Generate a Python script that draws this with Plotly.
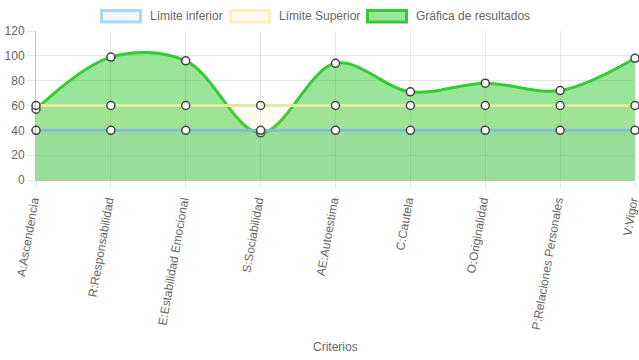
import plotly.graph_objects as go

categorias = ["A:Ascendencia", "R:Responsabilidad", "E:Estabilidad Emocional",
              "S:Sociabilidad", "AE:Autoestima", "C:Cautela", "O:Originalidad",
              "P:Relaciones Personales", "V:Vigor"]
limite_inferior = [40, 40, 40, 40, 40, 40, 40, 40, 40]
limite_superior = [60, 60, 60, 60, 60, 60, 60, 60, 60]
resultados = [57, 99, 96, 38, 94, 71, 78, 72, 98]
nombres = ["Límite inferior", "Límite Superior", "Gráfica de resultados"]
y_ticks = [0, 20, 40, 60, 80, 100, 120]

W, H = 639, 360
ML, MR, MT, MB = 36, 4, 31, 180
PW, PH = W - ML - MR, H - MT - MB

def px_x(px):
    return (px - ML) / PW

def px_y(py):
    return (H - MB - py) / PH

FONT = "Liberation Sans, Arial, Helvetica, sans-serif"
GRAY = "#666666"

marker = dict(size=8, color="white", line=dict(color="#444444", width=1.5))

fig = go.Figure()
fig.add_trace(go.Scatter(
    x=categorias, y=resultados, mode="lines+markers", name=nombres[2],
    line=dict(color="#33cc33", width=3, shape="spline", smoothing=1.0),
    fill="tozeroy", fillcolor="rgba(51,204,51,0.5)",
    marker=marker, cliponaxis=False, showlegend=False))
fig.add_trace(go.Scatter(
    x=categorias, y=limite_superior, mode="lines+markers", name=nombres[1],
    line=dict(color="#e2eb9c", width=3),
    fill="tozeroy", fillcolor="rgba(255,205,86,0.08)",
    marker=marker, cliponaxis=False, showlegend=False))
fig.add_trace(go.Scatter(
    x=categorias, y=limite_inferior, mode="lines+markers", name=nombres[0],
    line=dict(color="#82bcd6", width=3),
    fill="tozeroy", fillcolor="rgba(54,162,235,0.08)",
    marker=marker, cliponaxis=False, showlegend=False))

# manual legend (Chart.js style boxes)
legend_items = [
    (100, 142, 148, "rgba(54,162,235,0.4)", "rgba(54,162,235,0.07)"),
    (229, 271, 277, "rgba(255,205,86,0.35)", "rgba(255,205,86,0.07)"),
    (366, 408, 414, "#33cc33", "rgba(51,204,51,0.5)"),
]
shapes = []
annotations = []
for (x0, x1, tx, border, fillc), name in zip(legend_items, nombres):
    shapes.append(dict(type="rect", xref="paper", yref="paper",
                       x0=px_x(x0 + 1.5), x1=px_x(x1 - 1.5),
                       y0=px_y(22), y1=px_y(10.5),
                       line=dict(color=border, width=3), fillcolor=fillc))
    annotations.append(dict(text=name, xref="paper", yref="paper",
                            x=px_x(tx), y=px_y(16), xanchor="left", yanchor="middle",
                            showarrow=False, font=dict(family=FONT, size=12, color=GRAY)))
annotations.append(dict(text="Criterios", xref="paper", yref="paper",
                        x=px_x(335), y=px_y(347), xanchor="center", yanchor="middle",
                        showarrow=False, font=dict(family=FONT, size=12, color=GRAY)))

fig.update_layout(
    width=W, height=H,
    margin=dict(l=ML, r=MR, t=MT, b=MB, pad=0, autoexpand=False),
    paper_bgcolor="white", plot_bgcolor="white",
    font=dict(family=FONT, size=12, color=GRAY),
    showlegend=False,
    shapes=shapes, annotations=annotations,
    xaxis=dict(type="category", range=[0, len(categorias) - 1], automargin=False,
               tickangle=-80, ticklabelshift=-3, showgrid=True, gridcolor="rgba(0,0,0,0.1)",
               ticks="outside", ticklen=8, tickcolor="rgba(0,0,0,0.1)",
               showline=True, linecolor="rgba(0,0,0,0.25)", linewidth=1,
               tickfont=dict(family=FONT, size=12, color=GRAY)),
    yaxis=dict(range=[0, 120], tickvals=y_ticks, showgrid=True, automargin=False,
               gridcolor="rgba(0,0,0,0.1)", zeroline=False,
               ticks="outside", ticklen=8, tickcolor="rgba(0,0,0,0.1)",
               showline=True, linecolor="rgba(0,0,0,0.25)", linewidth=1,
               tickfont=dict(family=FONT, size=12, color=GRAY)),
)

fig.write_html("out.html", config={"displayModeBar": False},
               post_script="document.body.style.margin='0px';document.body.style.overflow='hidden';")
